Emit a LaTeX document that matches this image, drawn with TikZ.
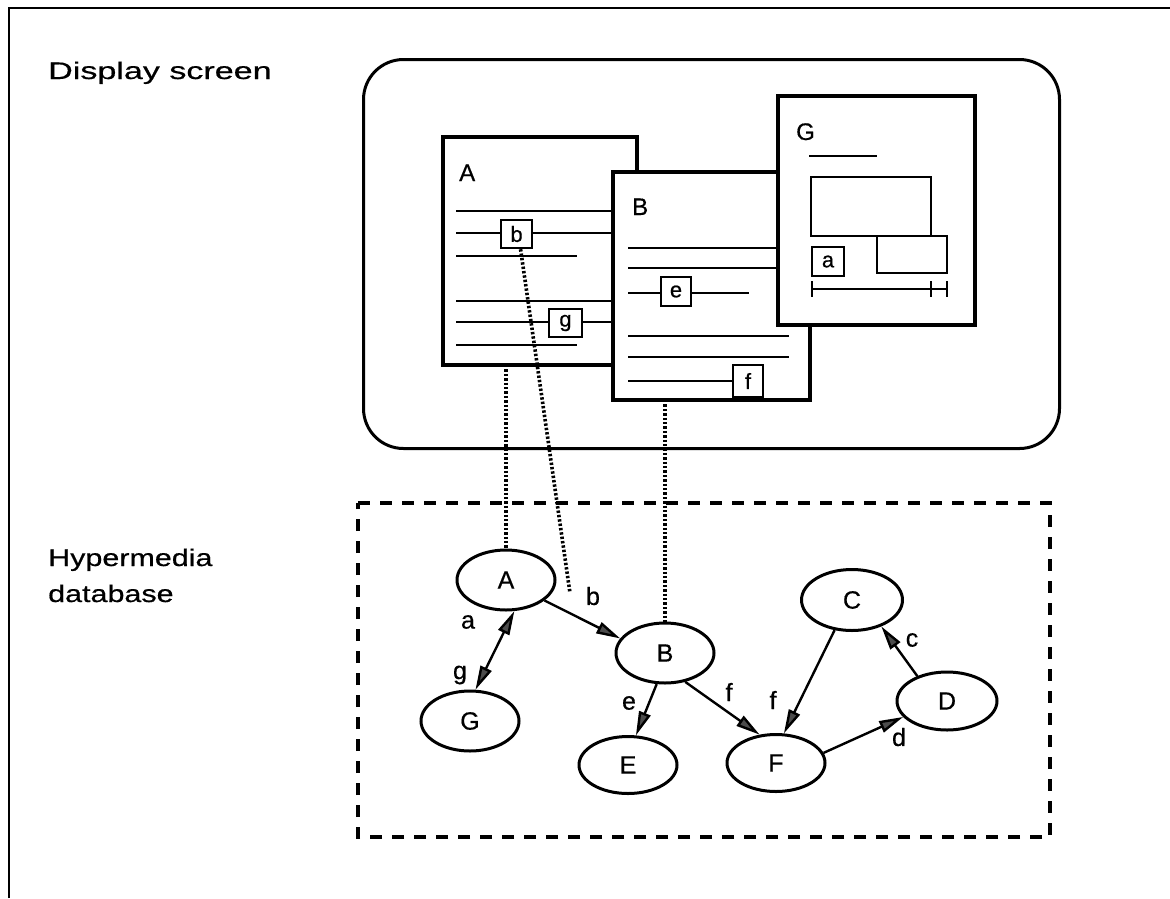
\documentclass[tikz,border=0pt]{standalone}
\usepackage{fontspec}
\usepackage{graphicx}
\setmainfont{Liberation Sans}[FakeBold=0.5]
\usetikzlibrary{shapes.geometric,arrows.meta}
\begin{document}
\begin{tikzpicture}[x=1pt,y=-1pt,
  win/.style={draw, line width=3.5pt, fill=white, inner sep=0pt, outer sep=0pt},
  tline/.style={line width=2.4pt},
  lbox/.style={draw, line width=2.4pt, fill=white, inner sep=0pt, font=\fontsize{22}{26}\selectfont},
  gnode/.style={ellipse, draw, line width=3pt, minimum width=98pt, minimum height=60pt, inner sep=0pt, font=\fontsize{25}{30}\selectfont},
  arr/.style={line width=2.4pt, -{Triangle[length=24pt,width=12pt,fill=black!70]}},
  arrtwo/.style={line width=2.4pt, {Triangle[length=24pt,width=12pt,fill=black!70]}-{Triangle[length=24pt,width=12pt,fill=black!70]}},
  elab/.style={font=\fontsize{25}{30}\selectfont, inner sep=0pt},
  wlab/.style={font=\fontsize{24}{28}\selectfont, inner sep=0pt, anchor=base west},
  dotl/.style={line width=3.6pt, dash pattern=on 2.4pt off 2pt},
  sidelab/.style={font=\fontsize{24}{28}\selectfont, inner sep=0pt, anchor=base west},
]
\useasboundingbox (0,0) rectangle (1170,898);
\fill[white] (0,0) rectangle (1170,898);

% outer frame (top and left edges)
\draw[line width=2.6pt] (9,898) -- (9,8) -- (1170,8);

% side labels
\node[sidelab] (ds) at (48,79) {\scalebox{1.42}[1]{Display screen}};
\node[sidelab] (hm) at (48,566) {\scalebox{1.27}[1]{Hypermedia}};
\node[sidelab] (db) at (48,602) {\scalebox{1.27}[1]{database}};

% display screen
\node[draw, line width=3pt, rounded corners=40pt, minimum width=696pt, minimum height=389pt, anchor=north west, inner sep=0pt] (screen) at (362,58) {};

% window A
\node[win, minimum width=194pt, minimum height=228pt, anchor=north west] (wA) at (443,137) {};
\node[wlab] (tA) at (459,181) {A};
\draw[tline] (456,211) -- (630,211);
\draw[tline] (456,233) -- (630,233);
\draw[tline] (456,256) -- (577,256);
\draw[tline] (456,301) -- (630,301);
\draw[tline] (456,322) -- (630,322);
\draw[tline] (456,345) -- (577,345);
\node[lbox, minimum width=31pt, minimum height=28pt] (lb) at (516.5,234) {b};
\node[lbox, minimum width=33pt, minimum height=28pt] (lg) at (565.5,323) {g};

% window B
\node[win, minimum width=197pt, minimum height=228pt, anchor=north west] (wB) at (613,172) {};
\node[wlab] (tB) at (632,215) {B};
\draw[tline] (628,248) -- (790,248);
\draw[tline] (628,268) -- (790,268);
\draw[tline] (628,293) -- (749,293);
\draw[tline] (628,336) -- (789,336);
\draw[tline] (628,357) -- (789,357);
\draw[tline] (628,381) -- (740,381);
\node[lbox, minimum width=30pt, minimum height=29pt] (le) at (676,291.5) {e};
\node[lbox, minimum width=30pt, minimum height=32pt] (lf) at (748,381) {f};

% window G
\node[win, minimum width=197pt, minimum height=229pt, anchor=north west] (wG) at (778,96) {};
\node[wlab] (tG) at (796,140) {G};
\draw[tline] (809,156) -- (877,156);
\draw[tline] (811,177) rectangle (931,236);
\draw[tline] (877,236) rectangle (947,273);
\node[lbox, minimum width=32pt, minimum height=29pt] (la) at (828,261.5) {a};
\draw[tline] (812,289) -- (947,289);
\draw[tline] (812,281) -- (812,297);
\draw[tline] (931,281) -- (931,297);
\draw[tline] (947,281) -- (947,297);

% database box
\draw[line width=3.2pt, dash pattern=on 12pt off 10pt] (358,503) -- (1050,503) -- (1050,837) -- (358,837) -- cycle;

% graph nodes
\node[gnode] (gA) at (506,580) {A};
\node[gnode] (gG) at (470,721) {G};
\node[gnode] (gB) at (665,653) {B};
\node[gnode, minimum height=57pt] (gE) at (628,765) {E};
\node[gnode, minimum height=57pt] (gF) at (776,763) {F};
\node[gnode, minimum width=101pt, minimum height=61pt] (gC) at (852,600) {C};
\node[gnode, minimum width=100pt, minimum height=58pt] (gD) at (947,701) {D};

% dotted connectors
\coordinate (bend) at (570,593);
\draw[dotl] (gA.north |- wA.south) -- (gA.north);
\draw[dotl] (lb.-75) -- (bend);
\draw[dotl] (gB.north |- wB.south) -- (gB.north);

% links
\draw[arrtwo] (gA.-75) -- (gG.80);
\draw[arr] (gA.-28) -- (gB.162);
\draw[arr] (gB.-105) -- (gE.75);
\draw[arr] (gB.-55) -- (gF.120);
\draw[arr] (gC.-120) -- (gF.75);
\draw[arr] (gF.12) -- (gD.200);
\draw[arr] (gD.140) -- (gC.-42);

% link labels
\node[elab] (la1) at (468,622) {a};
\node[elab] (lg1) at (460,675) {g};
\node[elab] (lb1) at (593,596) {b};
\node[elab] (le1) at (629,703) {e};
\node[elab] (lf1) at (729,692) {f};
\node[elab] (lf2) at (773,700) {f};
\node[elab] (ld1) at (899,737) {d};
\node[elab] (lc1) at (912,640) {c};
\end{tikzpicture}
\end{document}
